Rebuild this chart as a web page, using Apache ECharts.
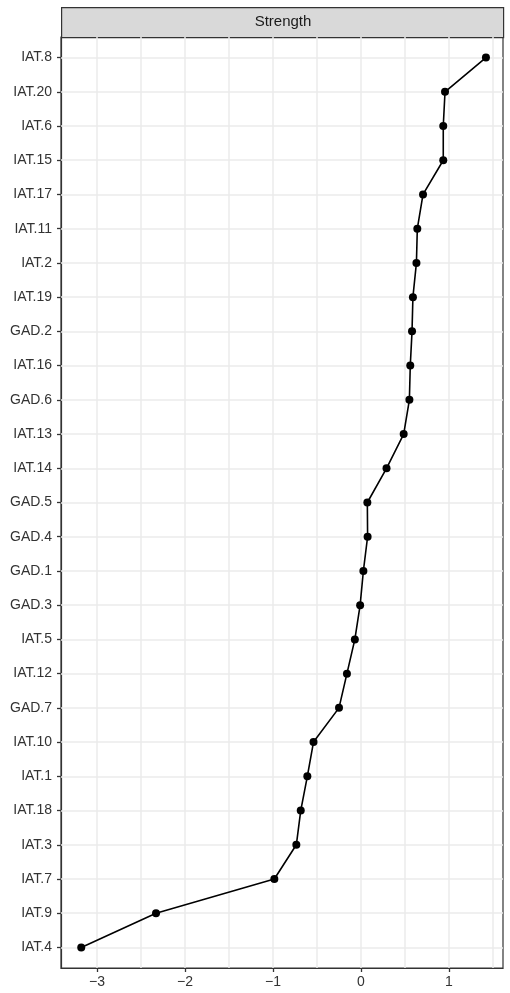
<!DOCTYPE html>
<html>
<head>
<meta charset="utf-8">
<script src="https://cdn.jsdelivr.net/npm/echarts@6/dist/echarts.min.js"></script>
<style>
  html, body { margin: 0; padding: 0; background: #fff; }
  #chart { width: 510px; height: 993px; }
</style>
</head>
<body>
<div id="chart"></div>
<script>
// node names, top to bottom
var nodes = ['IAT.8', 'IAT.20', 'IAT.6', 'IAT.15', 'IAT.17', 'IAT.11', 'IAT.2', 'IAT.19', 'GAD.2',
    'IAT.16', 'GAD.6', 'IAT.13', 'IAT.14', 'GAD.5', 'GAD.4', 'GAD.1', 'GAD.3', 'IAT.5', 'IAT.12',
    'GAD.7', 'IAT.10', 'IAT.1', 'IAT.18', 'IAT.3', 'IAT.7', 'IAT.9', 'IAT.4'];
// strength (z-scores)
var strength = [1.42, 0.955, 0.935, 0.935, 0.705, 0.64, 0.63, 0.59, 0.58,
    0.56, 0.55, 0.485, 0.29, 0.072, 0.075, 0.027, -0.01, -0.07, -0.16,
    -0.25, -0.54, -0.61, -0.685, -0.735, -0.985, -2.33, -3.18];
var xTicks = [-3, -2, -1, 0, 1];
var xMinor = [-3.5, -2.5, -1.5, -0.5, 0.5, 1.5];
var facetTitle = 'Strength';

var dom = document.getElementById('chart');
var myChart = echarts.init(dom, null, { renderer: 'canvas' });

var yIdx = nodes.map(function (n, i) { return i; });
var pts = strength.map(function (v, i) { return [v, i]; });

//grid lines (major + minor) as mark lines
var gridLines = [];
xTicks.forEach(function (v) { gridLines.push({ xAxis: v }); });
xMinor.forEach(function (v) { gridLines.push({ xAxis: v }); });
yIdx.forEach(function (i) { gridLines.push({ yAxis: i }); });

function fmtNum(v) {
    return v < 0 ? '\u2212' + Math.abs(v) : String(v);
}

var font = 'Liberation Sans, Arial, sans-serif';

var option = {
    animation: false,
    backgroundColor: '#fff',
    grid: {
        left: 61, right: 7, top: 37, bottom: 25,
        show: true, borderColor: '#333', borderWidth: 1.2, backgroundColor: 'transparent'
    },
    graphic: [
        {
            type: 'rect', left: 61, top: 7,
            shape: { width: 442, height: 30 },
            style: { fill: '#d9d9d9', stroke: '#333', lineWidth: 1.2 }
        },
        {
            type: 'text', x: 283, y: 22,
            style: {
                text: facetTitle, font: '15px ' + font, fill: '#1a1a1a',
                align: 'center', verticalAlign: 'middle',
                textAlign: 'center', textVerticalAlign: 'middle'
            }
        }
    ],
    xAxis: {
        type: 'value',
        min: -3.41, max: 1.614,
        axisLine: { show: true, onZero: false, lineStyle: { color: '#333', width: 1.2 } },
        splitLine: { show: false },
        axisTick: { show: true, customValues: xTicks, length: 4, lineStyle: { color: '#333', width: 1.3 } },
        axisLabel: {
            customValues: xTicks, margin: 7,
            fontSize: 14, fontFamily: font, color: '#333',
            formatter: fmtNum
        }
    },
    yAxis: {
        type: 'value',
        inverse: true,
        min: -0.6, max: 26.6,
        axisLine: { show: true, onZero: false, lineStyle: { color: '#333', width: 1.2 } },
        splitLine: { show: false },
        axisTick: { show: true, customValues: yIdx, length: 4, lineStyle: { color: '#333', width: 1.3 } },
        axisLabel: {
            customValues: yIdx, margin: 9,
            fontSize: 14, fontFamily: font, color: '#333',
            formatter: function (v) { return nodes[Math.round(v)]; }
        }
    },
    series: [
        {
            type: 'line',
            data: pts,
            symbol: 'circle',
            symbolSize: 8,
            lineStyle: { color: '#000', width: 1.6 },
            itemStyle: { color: '#000' },
            z: 5,
            markLine: {
                silent: true,
                symbol: 'none',
                label: { show: false },
                emphasis: { disabled: true },
                lineStyle: { color: '#ebebeb', type: 'solid', width: 1.5, opacity: 1 },
                data: gridLines,
                z: 1
            }
        }
    ]
};

myChart.setOption(option);
window.addEventListener('resize', myChart.resize);
</script>
</body>
</html>
